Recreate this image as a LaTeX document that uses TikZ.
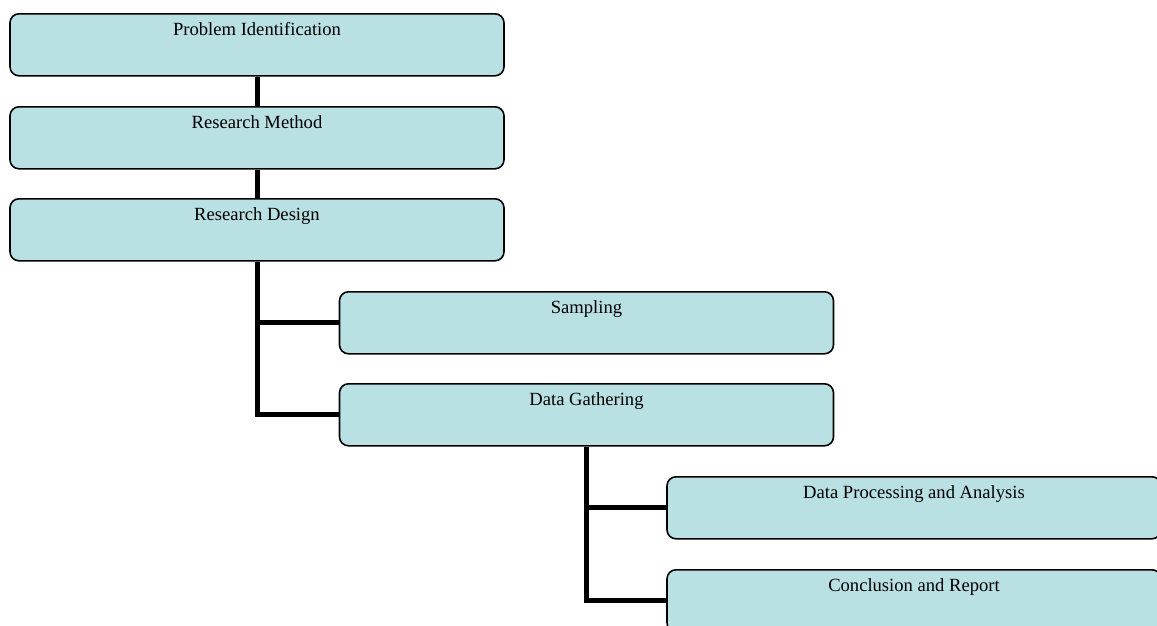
\documentclass[tikz,border=0pt]{standalone}
\usepackage{fontspec}
\setmainfont{Liberation Serif}
\definecolor{boxfill}{RGB}{185,224,227}
\begin{document}
\begin{tikzpicture}[x=1pt,y=-1pt,
  stepbox/.style={draw=black, line width=1.6pt, fill=boxfill, rounded corners=9pt,
    minimum width=494pt, inner xsep=0pt, inner ysep=0pt,
    text height=22pt, text depth=40pt, font=\fontsize{18.6}{22}\selectfont},
  conn/.style={draw=black, line width=5pt}]
\useasboundingbox (0,0) rectangle (1157,625);
\clip (0,0) rectangle (1157,625);
\node[stepbox] (b1) at (257,13) [anchor=north] {Problem Identification};
\node[stepbox] (b2) at (257,106) [anchor=north] {Research Method};
\node[stepbox] (b3) at (257,198) [anchor=north] {Research Design};
\node[stepbox] (b4) at (586.5,291) [anchor=north] {Sampling};
\node[stepbox] (b5) at (586.5,383) [anchor=north] {Data Gathering};
\node[stepbox] (b6) at (914,476) [anchor=north] {Data Processing and Analysis};
\node[stepbox] (b7) at (914,569) [anchor=north] {Conclusion and Report};
\draw[conn] (b1.south) -- (b2.north);
\draw[conn] (b2.south) -- (b3.north);
\draw[conn] (b3.south) |- (b5.west);
\draw[conn] (b3.south |- b4.west) -- (b4.west);
\draw[conn] (b5.south) |- (b7.west);
\draw[conn] (b5.south |- b6.west) -- (b6.west);
\end{tikzpicture}
\end{document}
